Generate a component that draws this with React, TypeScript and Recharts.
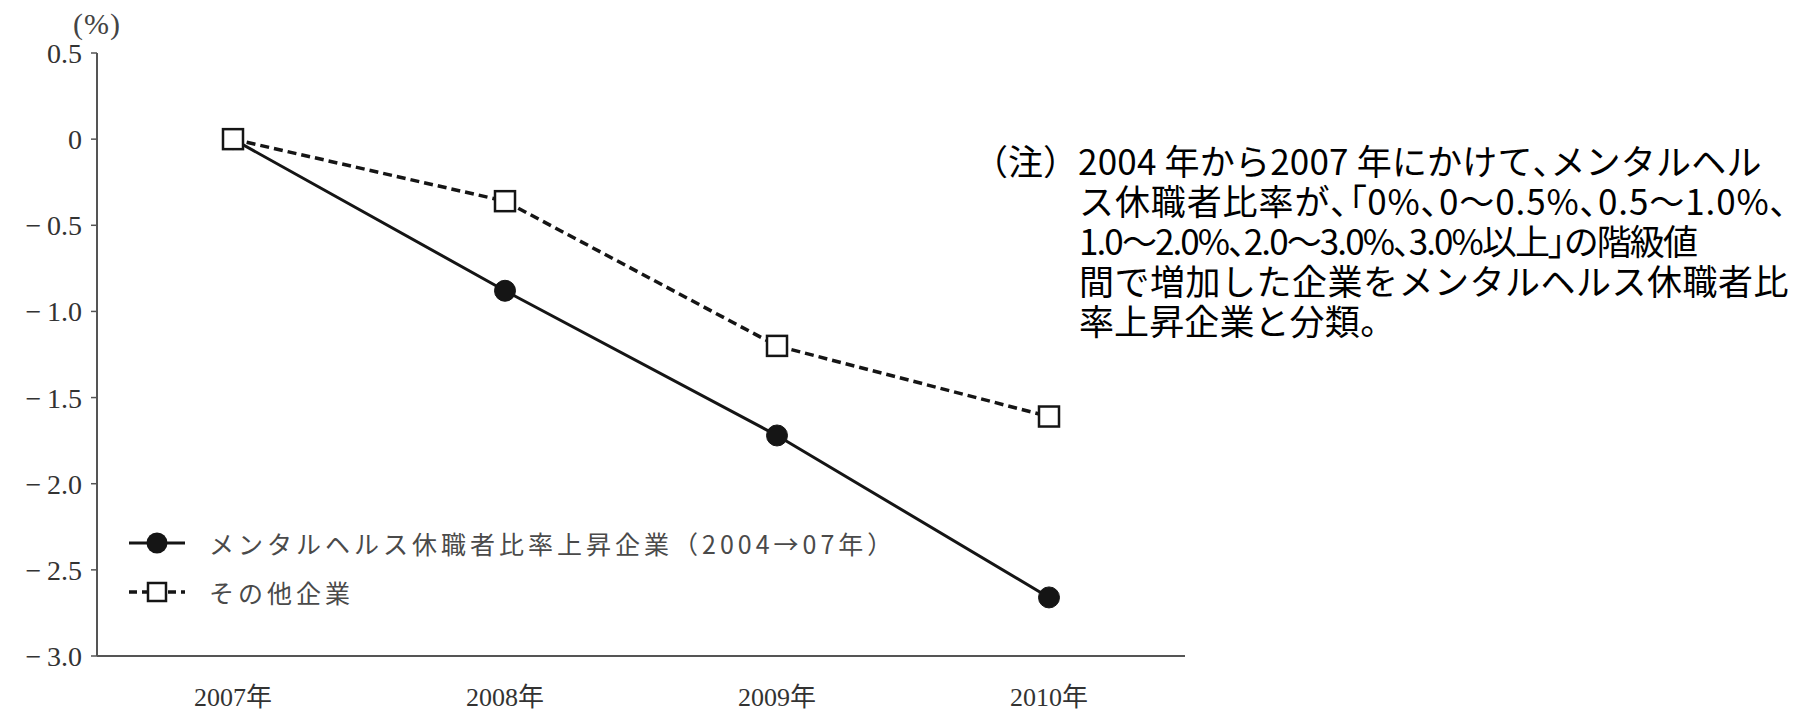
import React from 'react';
import { LineChart, Line, XAxis, YAxis, Legend } from 'recharts';

const years = ['2007年', '2008年', '2009年', '2010年'];
const risingCompanies = [0, -0.88, -1.72, -2.66];
const otherCompanies = [0, -0.36, -1.2, -1.61];
const yTicks = [0.5, 0, -0.5, -1.0, -1.5, -2.0, -2.5, -3.0];
const frameTicks = [0, 1, 2, 3, 4];

const seriesNames = {
  rising: 'メンタルヘルス休職者比率上昇企業（2004→07年）',
  other: 'その他企業',
};

const notePrefix = '（注）';
const noteLines = [
  '2004 年から2007 年にかけて、メンタルヘル',
  'ス休職者比率が、「0%、0〜0.5%、0.5〜1.0%、',
  '1.0〜2.0%、2.0〜3.0%、3.0%以上」の階級値',
  '間で増加した企業をメンタルヘルス休職者比',
  '率上昇企業と分類。',
];
// the original text box packs each line a little differently
const noteSpacing = [0.2, 0.9, -1.9, 0.5, 0.1];

const data = years.map((year, i) => ({
  year,
  rising: risingCompanies[i],
  other: otherCompanies[i],
}));

const ink = '#151515';
const axisGray = '#555';
const serif = '"Liberation Serif", "DejaVu Serif", "Noto Sans CJK JP", serif';
const cjk = '"Noto Sans CJK JP", sans-serif';

const formatY = (v: number) => {
  if (v === 0) return '0';
  if (v < 0) return `−\u2009${Math.abs(v).toFixed(1)}`;
  return v.toFixed(1);
};

// tighten only the punctuation, keep kana full width
const tightPunct = (line: string) =>
  line.split(/([、「」。])/).map((part, i) =>
    /^[、「」。]$/.test(part) ? (
      <span key={i} style={{ fontFeatureSettings: '"palt"' }}>{part}</span>
    ) : (
      <React.Fragment key={i}>{part}</React.Fragment>
    )
  );

const SquareDot = (props: any) => {
  const { cx, cy } = props;
  if (cx == null || cy == null) return null;
  return <rect x={cx - 10} y={cy - 10} width={20} height={20} fill="#fff" stroke={ink} strokeWidth={2.5} />;
};

const renderLegend = () => (
  <div style={{ fontFamily: cjk, fontSize: 25, color: '#4a4a4a', letterSpacing: 4 }}>
    <div style={{ display: 'flex', alignItems: 'center', height: 49 }}>
      <svg width={56} height={24} style={{ marginRight: 24 }}>
        <line x1={0} y1={12} x2={56} y2={12} stroke={ink} strokeWidth={3} />
        <circle cx={28} cy={12} r={10.5} fill={ink} />
      </svg>
      <span>{seriesNames.rising}</span>
    </div>
    <div style={{ display: 'flex', alignItems: 'center', height: 49 }}>
      <svg width={56} height={24} style={{ marginRight: 24 }}>
        <line x1={0} y1={12} x2={56} y2={12} stroke={ink} strokeWidth={3.5} strokeDasharray="8 5" />
        <rect x={19} y={3} width={18} height={18} fill="#fff" stroke={ink} strokeWidth={2.5} />
      </svg>
      <span>{seriesNames.other}</span>
    </div>
  </div>
);

export default function App() {
  return (
    <div style={{ position: 'absolute', left: 0, top: 0, width: 1793, height: 711, background: '#fff' }}>
      <div style={{ position: 'absolute', left: 73, top: 7, fontFamily: serif, fontSize: 30, letterSpacing: 1, color: '#444' }}>(%)</div>
      <LineChart width={1200} height={711} data={data} margin={{ top: 53, right: 15, left: 0, bottom: 4 }}>
        <XAxis
          xAxisId={0}
          type="number"
          domain={[0, 4]}
          ticks={frameTicks}
          allowDataOverflow
          height={1}
          tick={false}
          tickSize={7}
          axisLine={{ stroke: axisGray, strokeWidth: 2 }}
          tickLine={{ stroke: axisGray, strokeWidth: 1.5 }}
        />
        <XAxis
          xAxisId="cat"
          dataKey="year"
          height={50}
          padding={{ left: 136, right: 136 }}
          axisLine={false}
          tickLine={false}
          tickSize={0}
          tickMargin={31}
          tick={{ fontFamily: serif, fontSize: 26, fill: '#333' }}
        />
        <YAxis
          width={97}
          domain={[-3, 0.5]}
          ticks={yTicks}
          interval={0}
          tickFormatter={formatY}
          tickSize={6}
          tickMargin={9}
          axisLine={{ stroke: axisGray, strokeWidth: 2 }}
          tickLine={{ stroke: axisGray, strokeWidth: 1.5 }}
          tick={{ fontFamily: serif, fontSize: 28, fill: '#333' }}
        />
        <Legend
          layout="vertical"
          align="center"
          verticalAlign="middle"
          content={renderLegend}
          wrapperStyle={{ position: 'absolute', left: 129, top: 518, width: 'auto', height: 'auto' }}
        />
        <Line
          xAxisId="cat"
          dataKey="rising"
          name={seriesNames.rising}
          stroke={ink}
          strokeWidth={3}
          dot={{ r: 10.5, fill: ink, stroke: ink, strokeWidth: 1 }}
          isAnimationActive={false}
        />
        <Line
          xAxisId="cat"
          dataKey="other"
          name={seriesNames.other}
          stroke={ink}
          strokeWidth={3.5}
          strokeDasharray="9 5"
          dot={<SquareDot />}
          isAnimationActive={false}
        />
      </LineChart>
      <div
        style={{
          position: 'absolute',
          left: 973,
          top: 140,
          fontFamily: cjk,
          fontSize: 35,
          lineHeight: '40px',
          color: '#000',
          whiteSpace: 'nowrap',
        }}
      >
        {noteLines.map((line, i) => (
          <div key={i} style={{ paddingLeft: i === 0 ? 0 : 106, letterSpacing: noteSpacing[i] }}>
            {i === 0 ? <span style={{ letterSpacing: 0 }}>{notePrefix}</span> : null}
            {tightPunct(line)}
          </div>
        ))}
      </div>
    </div>
  );
}
